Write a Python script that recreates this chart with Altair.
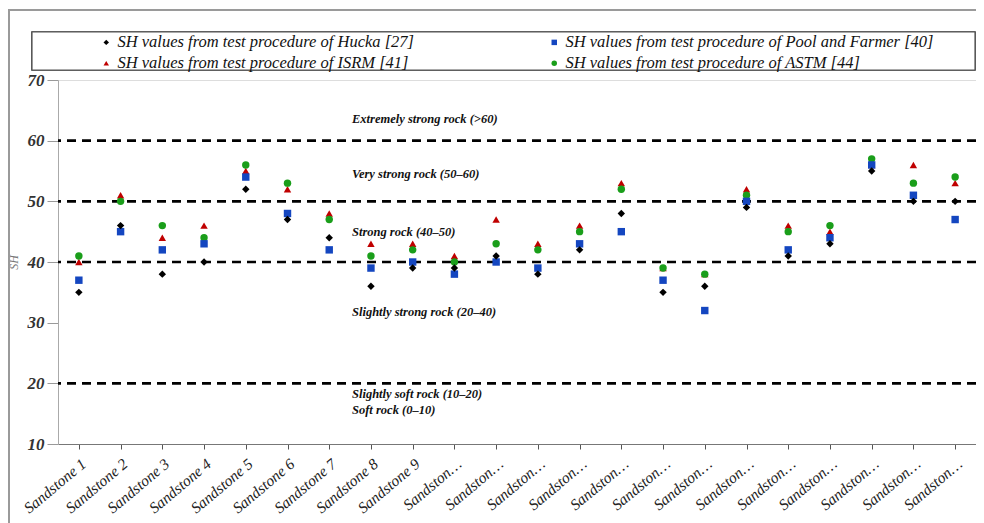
import altair as alt
import pandas as pd

samples = ["Sandstone 1", "Sandstone 2", "Sandstone 3", "Sandstone 4", "Sandstone 5",
           "Sandstone 6", "Sandstone 7", "Sandstone 8", "Sandstone 9", "Sandstone 10",
           "Sandstone 11", "Sandstone 12", "Sandstone 13", "Sandstone 14", "Sandstone 15",
           "Sandstone 16", "Sandstone 17", "Sandstone 18", "Sandstone 19", "Sandstone 20",
           "Sandstone 21", "Sandstone 22"]

hucka = [35, 46, 38, 40, 52, 47, 44, 36, 39, 39, 41, 38, 42, 48, 35, 36, 49, 41, 43, 55, 50, 50]
pool = [37, 45, 42, 43, 54, 48, 42, 39, 40, 38, 40, 39, 43, 45, 37, 32, 50, 42, 44, 56, 51, 47]
isrm = [40, 51, 44, 46, 55, 52, 48, 43, 43, 41, 47, 43, 46, 53, 39, 38, 52, 46, 45, 56, 56, 53]
astm = [41, 50, 46, 44, 56, 53, 47, 41, 42, 40, 43, 42, 45, 52, 39, 38, 51, 45, 46, 57, 53, 54]

methods = ["SH values from test procedure of Hucka [27]",
           "SH values from test procedure of Pool and Farmer [40]",
           "SH values from test procedure of ISRM [41]",
           "SH values from test procedure of ASTM [44]"]
colors = ["#000000", "#1446c0", "#c00000", "#1a9e1a"]
shapes = ["diamond", "square", "triangle-up", "circle"]

thresholds = [20, 40, 50, 60]
ann_labels = ["Extremely strong rock (>60)", "Very strong rock (50\u201360)",
              "Strong rock (40\u201350)", "Slightly strong rock (20\u201340)",
              "Slightly soft rock (10\u201320)", "Soft rock (0\u201310)"]
ann_values = [63.6, 54.5, 45.0, 31.8, 18.3, 15.6]

rows = []
for series, name in [(isrm, methods[2]), (astm, methods[3]), (pool, methods[1]), (hucka, methods[0])]:
    for s, v in zip(samples, series):
        rows.append({"sample": s, "method": name, "SH": v})
df = pd.DataFrame(rows)
thr_df = pd.DataFrame({"t": thresholds})
ann_df = pd.DataFrame({"label": ann_labels, "v": ann_values})

W, H = 918, 364
serif = "Liberation Serif"

yscale = alt.Scale(domain=[10, 70], nice=False, zero=False)

leg = alt.Legend(title=None, orient="none", legendX=40, legendY=-46, columns=2,
                 direction="horizontal", columnPadding=132, rowPadding=4, symbolSize=30,
                 labelFont=serif, labelFontStyle="italic", labelFontSize=16.5,
                 labelColor="#111", labelLimit=0, labelOffset=3)

frame = alt.Chart(thr_df).mark_rect(fill=None, stroke="#9a9a9a", strokeWidth=2).encode(
    x=alt.value(-49), x2=alt.value(W + 20), y=alt.value(-70), y2=alt.value(H + 100))

legbox = alt.Chart(thr_df).mark_rect(fill="white", stroke="#555", strokeWidth=1.2).encode(
    x=alt.value(-26), x2=alt.value(W - 1), y=alt.value(-48), y2=alt.value(-10))

rules = alt.Chart(thr_df).mark_rule(color="black", strokeWidth=2.6, strokeDash=[9, 6]).encode(
    y=alt.Y("t:Q", scale=yscale))

ann = alt.Chart(ann_df).mark_text(align="left", baseline="middle", font=serif,
                                  fontStyle="italic", fontWeight="bold", fontSize=12.5,
                                  color="#111").encode(
    x=alt.value(294), y=alt.Y("v:Q", scale=yscale), text="label:N")

points = alt.Chart(df).mark_point(filled=True, size=55, opacity=1).encode(
    x=alt.X("sample:N", sort=samples, title=None,
            axis=alt.Axis(labelAngle=-40, labelFont=serif, labelFontStyle="italic",
                          labelFontSize=15.5, labelColor="#222", labelPadding=7,
                          labelExpr="length(datum.label) > 11 ? 'Sandston\u2026' : datum.label",
                          tickSize=5, tickColor="#555", domainColor="#777", grid=False)),
    y=alt.Y("SH:Q", scale=yscale, title="SH",
            axis=alt.Axis(values=[10, 20, 30, 40, 50, 60, 70], labelFont=serif,
                          labelFontStyle="italic", labelFontWeight="bold", labelFontSize=17,
                          labelColor="#333", tickSize=11, tickColor="#999", domainColor="#aaa",
                          labelPadding=3, grid=False, titleFont=serif, titleFontStyle="italic",
                          titleFontWeight="normal", titleFontSize=12, titleColor="#777",
                          titlePadding=7)),
    color=alt.Color("method:N", scale=alt.Scale(domain=methods, range=colors), legend=leg),
    shape=alt.Shape("method:N", scale=alt.Scale(domain=methods, range=shapes), legend=leg),
)

chart = alt.layer(frame, legbox, rules, ann, points).properties(
    width=W, height=H,
    autosize=alt.AutoSizeParams(type="none"),
    padding={"left": 50, "top": 72, "right": 0, "bottom": 80},
).configure_view(stroke="#999", strokeWidth=1).configure(background="white")

chart.save("out.html", embed_options={"renderer": "svg", "actions": False})
